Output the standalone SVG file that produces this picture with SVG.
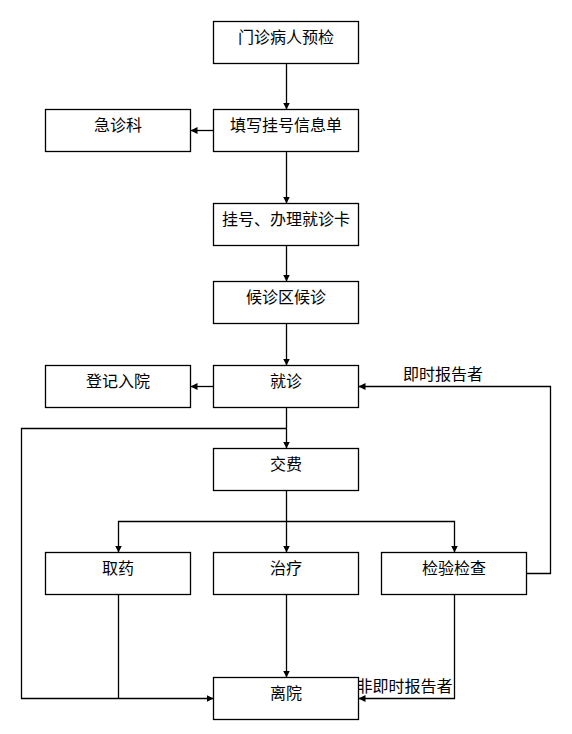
<svg xmlns="http://www.w3.org/2000/svg" width="572" height="734" viewBox="0 0 572 734">
<style>
.box{fill:#fff;stroke:#000;stroke-width:1.3}
.t{font-family:"Noto Sans CJK SC","Noto Sans CJK JP",sans-serif;font-size:16px;fill:#000;text-anchor:middle}
.l{font-family:"Noto Sans CJK SC","Noto Sans CJK JP",sans-serif;font-size:16px;fill:#000}
.c{fill:none;stroke:#000;stroke-width:1.3}
</style>
<defs>
<marker id="a" markerUnits="userSpaceOnUse" markerWidth="7" markerHeight="7" refX="7" refY="3.5" orient="auto">
<path d="M0,0 L7,3.5 L0,7 z" fill="#000"/>
</marker>
</defs>
<rect width="572" height="734" fill="#fff"/>
<g id="connectors">
<path class="c" d="M286.5,63.5 V109.5" marker-end="url(#a)"/>
<path class="c" d="M213.5,130.5 H190.5" marker-end="url(#a)"/>
<path class="c" d="M286.5,151.5 V203.5" marker-end="url(#a)"/>
<path class="c" d="M286.5,245.5 V281.5" marker-end="url(#a)"/>
<path class="c" d="M286.5,323.5 V365.5" marker-end="url(#a)"/>
<path class="c" d="M213.5,386.5 H190.5" marker-end="url(#a)"/>
<path class="c" d="M286.5,407.5 V448.5" marker-end="url(#a)"/>
<path class="c" d="M286.5,428.5 H21.5 V698.5 H213.5" marker-end="url(#a)"/>
<path class="c" d="M286.5,490.5 V552.5" marker-end="url(#a)"/>
<path class="c" d="M286.5,521.5 H118.5 V552.5" marker-end="url(#a)"/>
<path class="c" d="M286.5,521.5 H454.5 V552.5" marker-end="url(#a)"/>
<path class="c" d="M118.5,594.5 V698.5"/>
<path class="c" d="M286.5,594.5 V677.5" marker-end="url(#a)"/>
<path class="c" d="M454.5,594.5 V698.5 H358.5" marker-end="url(#a)"/>
<path class="c" d="M526.5,573.5 H550.5 V386.5 H358.5" marker-end="url(#a)"/>
<text class="l" x="403" y="380">即时报告者</text>
<text class="l" x="356.5" y="692">非即时报告者</text>
</g>
<g id="n1"><rect class="box" x="213.5" y="21.5" width="145" height="42"/><text class="t" x="286" y="43">门诊病人预检</text></g>
<g id="n2"><rect class="box" x="213.5" y="109.5" width="145" height="42"/><text class="t" x="286" y="131">填写挂号信息单</text></g>
<g id="n3"><rect class="box" x="45.5" y="109.5" width="145" height="42"/><text class="t" x="118" y="131">急诊科</text></g>
<g id="n4"><rect class="box" x="213.5" y="203.5" width="145" height="42"/><text class="t" x="286" y="225">挂号、办理就诊卡</text></g>
<g id="n5"><rect class="box" x="213.5" y="281.5" width="145" height="42"/><text class="t" x="286" y="303">候诊区候诊</text></g>
<g id="n6"><rect class="box" x="213.5" y="365.5" width="145" height="42"/><text class="t" x="286" y="387">就诊</text></g>
<g id="n7"><rect class="box" x="45.5" y="365.5" width="145" height="42"/><text class="t" x="118" y="387">登记入院</text></g>
<g id="n8"><rect class="box" x="213.5" y="448.5" width="145" height="42"/><text class="t" x="286" y="470">交费</text></g>
<g id="n9"><rect class="box" x="45.5" y="552.5" width="145" height="42"/><text class="t" x="118" y="574">取药</text></g>
<g id="n10"><rect class="box" x="213.5" y="552.5" width="145" height="42"/><text class="t" x="286" y="574">治疗</text></g>
<g id="n11"><rect class="box" x="381.5" y="552.5" width="145" height="42"/><text class="t" x="454" y="574">检验检查</text></g>
<g id="n12"><rect class="box" x="213.5" y="677.5" width="145" height="42"/><text class="t" x="286" y="699">离院</text></g>
</svg>
